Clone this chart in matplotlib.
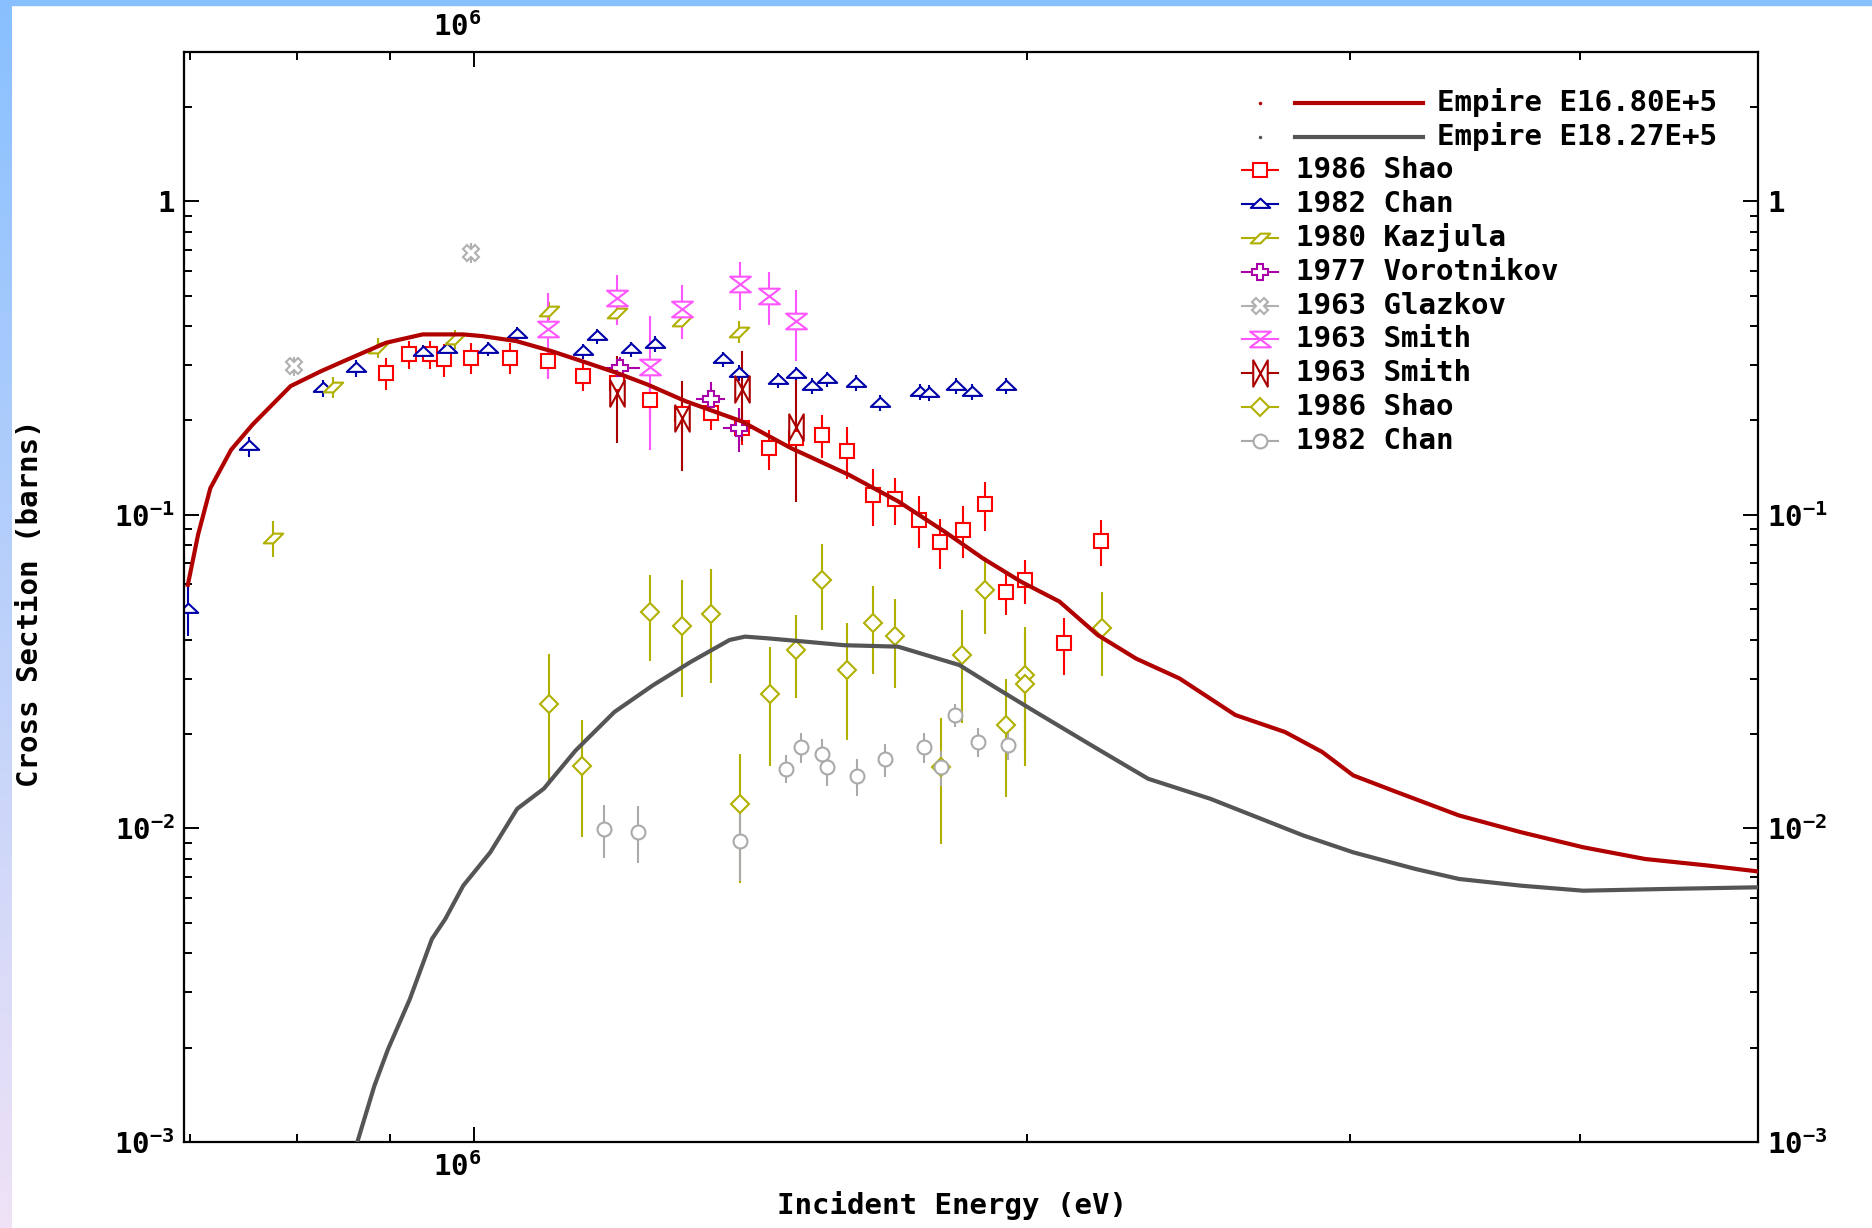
import numpy as np
import matplotlib
matplotlib.use("Agg")
import matplotlib.pyplot as plt
from matplotlib.path import Path
from matplotlib.patches import Rectangle
from matplotlib.colors import LinearSegmentedColormap
from matplotlib.ticker import LogLocator, NullFormatter
from matplotlib.transforms import ScaledTranslation

plt.rcParams.update({
    "font.family": "DejaVu Sans Mono",
    "font.weight": "bold",
    "mathtext.fontset": "custom",
    "mathtext.rm": "DejaVu Sans Mono:bold",
    "mathtext.it": "DejaVu Sans Mono:bold",
    "mathtext.bf": "DejaVu Sans Mono:bold",
    "mathtext.default": "rm",
})

# --- data (energies in MeV, cross sections in barns) -----------------------
red_E = [0.698, 0.707, 0.718, 0.737, 0.757, 0.794, 0.825, 0.853, 0.895, 0.937,
         0.986, 1.010, 1.054, 1.101, 1.144, 1.195, 1.242, 1.303, 1.398, 1.487,
         1.599, 1.702, 1.803, 1.892, 1.985, 2.083, 2.185, 2.293, 2.421, 2.597,
         2.764, 2.896, 3.011, 3.180, 3.438, 3.715, 4.017, 4.342, 4.693, 4.995]
red_S = [0.0598, 0.0864, 0.1217, 0.1614, 0.194, 0.2574, 0.2873, 0.3132, 0.3539,
         0.3763, 0.3763, 0.3716, 0.3582, 0.3331, 0.3093, 0.2838, 0.2606, 0.2305,
         0.1988, 0.1634, 0.1343, 0.1103, 0.0885, 0.0727, 0.0612, 0.0529, 0.0414,
         0.0348, 0.0301, 0.0230, 0.0203, 0.01753, 0.01476, 0.01306, 0.0110,
         0.00973, 0.00871, 0.00799, 0.00762, 0.0073]

gray_E = [0.862, 0.882, 0.897, 0.922, 0.948, 0.964, 0.986, 1.003, 1.020, 1.055,
          1.091, 1.135, 1.192, 1.251, 1.312, 1.377, 1.404, 1.444, 1.516, 1.590,
          1.701, 1.837, 1.927, 2.022, 2.184, 2.328, 2.517, 2.829, 3.011, 3.254,
          3.438, 3.715, 4.017, 4.446, 4.995]
gray_S = [0.00097, 0.00151, 0.00197, 0.00285, 0.00444, 0.00514, 0.00657, 0.00743,
          0.00839, 0.01155, 0.0134, 0.0177, 0.02353, 0.02862, 0.0340, 0.0399,
          0.0409, 0.0404, 0.0394, 0.0384, 0.0380, 0.0332, 0.0279, 0.0235, 0.01795,
          0.0144, 0.01243, 0.00949, 0.00839, 0.00743, 0.0069, 0.00657, 0.00633,
          0.00641, 0.00649]

shao_E = [0.895, 0.921, 0.946, 0.962, 0.996, 1.045, 1.097, 1.146, 1.195, 1.247,
          1.298, 1.345, 1.398, 1.447, 1.497, 1.547, 1.595, 1.648, 1.694, 1.746,
          1.794, 1.845, 1.896, 1.949, 1.995, 2.096, 2.194]
shao_S = [0.284, 0.325, 0.325, 0.313, 0.317, 0.317, 0.309, 0.277, 0.264, 0.232,
          0.209, 0.211, 0.189, 0.163, 0.176, 0.180, 0.160, 0.116, 0.112, 0.0965,
          0.0822, 0.0896, 0.108, 0.0569, 0.062, 0.0389, 0.0826]
shao_D = [0.033, 0.033, 0.033, 0.037, 0.035, 0.035, 0.035, 0.029, 0.030, 0.030,
          0.025, 0.025, 0.022, 0.024, 0.025, 0.028, 0.030, 0.024, 0.019, 0.018,
          0.015, 0.017, 0.019, 0.009, 0.010, 0.008, 0.014]

chan_E = [0.698, 0.754, 0.827, 0.862, 0.937, 0.966, 1.017, 1.055, 1.146, 1.166,
          1.217, 1.254, 1.366, 1.393, 1.464, 1.497, 1.528, 1.557, 1.614, 1.664,
          1.748, 1.769, 1.829, 1.867, 1.947]
chan_S = [0.050, 0.1655, 0.253, 0.2933, 0.3313, 0.3387, 0.3387, 0.3784, 0.3331,
          0.3716, 0.3372, 0.3513, 0.3132, 0.2838, 0.269, 0.2804, 0.2574, 0.2704,
          0.2638, 0.2277, 0.2468, 0.245, 0.2574, 0.2468, 0.2574]
chan_D = [0.009, 0.012, 0.016, 0.018, 0.018, 0.018, 0.018, 0.02, 0.018, 0.02,
          0.018, 0.02, 0.017, 0.016, 0.015, 0.016, 0.015, 0.015, 0.015, 0.013,
          0.014, 0.014, 0.015, 0.014, 0.015]

kaz_E = [0.777, 0.837, 0.886, 0.976, 1.098, 1.195, 1.297, 1.394]
kaz_S = [0.0843, 0.2555, 0.3413, 0.3627, 0.447, 0.4416, 0.415, 0.384]
kaz_D = [0.011, 0.02, 0.025, 0.025, 0.03, 0.03, 0.03, 0.03]

vor_E = [1.200, 1.345, 1.394]
vor_S = [0.2945, 0.235, 0.189]
vor_dE = [0.03, 0.025, 0.028]
vor_D = [0.025, 0.03, 0.03]

glz_E = [0.797, 0.996]
glz_S = [0.298, 0.686]
glz_D = [0.02, 0.05]

smith_m_E = [1.097, 1.195, 1.247, 1.298, 1.396, 1.447, 1.496]
smith_m_S = [0.3905, 0.493, 0.296, 0.4525, 0.5465, 0.499, 0.415]
smith_m_D = [0.12, 0.09, 0.135, 0.09, 0.095, 0.095, 0.105]

smith_d_E = [1.195, 1.297, 1.398, 1.497]
smith_d_S = [0.245, 0.203, 0.252, 0.19]
smith_d_D = [0.075, 0.065, 0.08, 0.08]

shd_E = [1.098, 1.145, 1.247, 1.297, 1.346, 1.395, 1.448, 1.496, 1.546, 1.595,
         1.648, 1.694, 1.795, 1.843, 1.896, 1.949, 1.995, 1.995, 2.196]
shd_S = [0.025, 0.0158, 0.0491, 0.0442, 0.0482, 0.0120, 0.0268, 0.037, 0.062,
         0.0321, 0.0451, 0.0411, 0.0157, 0.0357, 0.0576, 0.0213, 0.0308, 0.0288,
         0.0437]
shd_D = [0.011, 0.0064, 0.015, 0.018, 0.019, 0.0053, 0.011, 0.011, 0.019, 0.013,
         0.014, 0.013, 0.0068, 0.014, 0.016, 0.0087, 0.013, 0.013, 0.013]

chc_E = [1.177, 1.228, 1.395, 1.478, 1.506, 1.546, 1.557, 1.615, 1.674, 1.757,
         1.795, 1.827, 1.880, 1.953]
chc_S = [0.00997, 0.00977, 0.00909, 0.01551, 0.0182, 0.0173, 0.0157, 0.01466,
         0.0166, 0.0182, 0.0157, 0.023, 0.0189, 0.0185]
chc_D = [0.0019, 0.002, 0.0023, 0.0016, 0.002, 0.002, 0.002, 0.002, 0.002,
         0.002, 0.002, 0.002, 0.002, 0.002]

MeV = 1e6
FS = 21


def poly(pts):
    verts = list(pts) + [pts[0]]
    codes = [Path.MOVETO] + [Path.LINETO] * (len(pts) - 1) + [Path.CLOSEPOLY]
    return Path(verts, codes)


TRI = poly([(-1, -0.35), (1, -0.35), (0, 0.6)])
HOURGLASS = poly([(-1, 0.75), (1, 0.75), (-1, -0.75), (1, -0.75)])
BOWTIE = poly([(-0.55, 1), (-0.55, -1), (0.55, 1), (0.55, -1)])
ZED = poly([(0, 0.5), (1, 0.5), (0, -0.5), (-1, -0.5)])

# (label, color, marker, size, E, S, dS, dE)
series = [
    ("1986 Shao", "#ff0000", "s", 10.5, shao_E, shao_S, shao_D, None),
    ("1982 Chan", "#0000aa", TRI, 14, chan_E, chan_S, chan_D, None),
    ("1980 Kazjula", "#b0b000", ZED, 14, kaz_E, kaz_S, kaz_D, None),
    ("1977 Vorotnikov", "#aa00aa", "P", 12, vor_E, vor_S, vor_D, vor_dE),
    ("1963 Glazkov", "#b0b0b0", "X", 12, glz_E, glz_S, glz_D, None),
    ("1963 Smith", "#ff55ff", HOURGLASS, 15, smith_m_E, smith_m_S, smith_m_D, None),
    ("1963 Smith", "#aa0000", BOWTIE, 19, smith_d_E, smith_d_S, smith_d_D, None),
    ("1986 Shao", "#b0b000", "D", 9, shd_E, shd_S, shd_D, None),
    ("1982 Chan", "#aaaaaa", "o", 10, chc_E, chc_S, chc_D, None),
]

fig = plt.figure(figsize=(18.72, 12.28), dpi=100)
fig.patch.set_facecolor("white")

# window decoration: blue gradient strip on the left, flat strip on top
bax = fig.add_axes([0, 0, 12 / 1872, 1])
grad = np.linspace(0, 1, 256)[:, None]
bax.imshow(grad, aspect="auto",
           cmap=LinearSegmentedColormap.from_list("edge", ["#88c0ff", "#efe2f6"]))
bax.axis("off")
fig.patches.append(Rectangle((0, 1 - 5 / 1228), 1, 5 / 1228,
                             transform=fig.transFigure, color="#88c0ff"))

ax = fig.add_axes([184.4 / 1872, 86 / 1228, 1573.2 / 1872, 1090.3 / 1228])
ax.set_xscale("log")
ax.set_yscale("log")
ax.set_xlim(6.95e5, 5e6)
ax.set_ylim(1e-3, 3)

for label, col, mk, ms, E, S, D, dE in series:
    xerr = None if dE is None else np.array(dE) * MeV
    ax.errorbar(np.array(E) * MeV, S, yerr=D, xerr=xerr, fmt="none",
                ecolor=col, elinewidth=1.5, capsize=0, zorder=2)
    ax.plot(np.array(E) * MeV, S, linestyle="none", marker=mk, ms=ms,
            mfc="white", mec=col, mew=1.5, zorder=2.5)

ax.plot(np.array(gray_E) * MeV, gray_S, color="#555555", lw=3, zorder=3)
ax.plot(np.array(red_E) * MeV, red_S, color="#b00000", lw=3, zorder=3)

# ticks on all four sides
ax.set_xticks([1e6])
ax.set_xticklabels(["$10^{6}$"])
ax.xaxis.set_minor_locator(LogLocator(base=10, subs=np.arange(2, 10)))
ax.xaxis.set_minor_formatter(NullFormatter())
ax.set_yticks([1e-3, 1e-2, 1e-1, 1])
ax.set_yticklabels(["$10^{-3}$", "$10^{-2}$", "$10^{-1}$", "1"])
ax.yaxis.set_minor_locator(LogLocator(base=10, subs=np.arange(2, 10)))
ax.yaxis.set_minor_formatter(NullFormatter())
ax.tick_params(which="both", direction="in", top=True, right=True,
               labeltop=True, labelright=True, width=1.4, labelsize=FS, pad=7)
ax.tick_params(which="major", length=11)
ax.tick_params(which="minor", length=6)
for s in ax.spines.values():
    s.set_linewidth(1.6)

# the 10^6 labels sit a little left of their tick in the original
shift = ScaledTranslation(-0.17, 0, fig.dpi_scale_trans)
for t in ax.xaxis.get_major_ticks():
    t.label1.set_transform(t.label1.get_transform() + shift)
    t.label2.set_transform(t.label2.get_transform() + shift)

fig.text(952 / 1872, 1 - 1206 / 1228, "Incident Energy (eV)",
         ha="center", va="center", fontsize=FS, fontweight="bold")
fig.text(30 / 1872, 1 - 603 / 1228, "Cross Section (barns)", rotation=90,
         ha="center", va="center", fontsize=FS, fontweight="bold")

# legend drawn by hand (two different indents, as in the original)
T = ax.transAxes
rows_y = [0.9532, 0.9221, 0.8915, 0.8603, 0.8294, 0.7982, 0.767, 0.7362,
          0.705, 0.6744, 0.6432]
for y, lab, col in [(rows_y[0], "Empire E16.80E+5", "#b00000"),
                    (rows_y[1], "Empire E18.27E+5", "#555555")]:
    ax.plot([0.6837], [y], marker="o", ms=1.5, color=col, transform=T,
            clip_on=False)
    ax.plot([0.706, 0.7874], [y, y], color=col, lw=3, transform=T,
            clip_on=False)
    ax.text(0.7962, y, lab, transform=T, ha="left", va="center", fontsize=FS,
            fontweight="bold")
for y, (label, col, mk, ms, *_rest) in zip(rows_y[2:], series):
    ax.plot([0.6722, 0.6951], [y, y], color=col, lw=1.5, transform=T,
            clip_on=False)
    ax.plot([0.6837], [y], marker=mk, ms=ms, mfc="white", mec=col, mew=1.5,
            transform=T, clip_on=False, linestyle="none")
    ax.text(0.7064, y, label, transform=T, ha="left", va="center", fontsize=FS,
            fontweight="bold")

fig.savefig("out.png", dpi=100, facecolor="white")
